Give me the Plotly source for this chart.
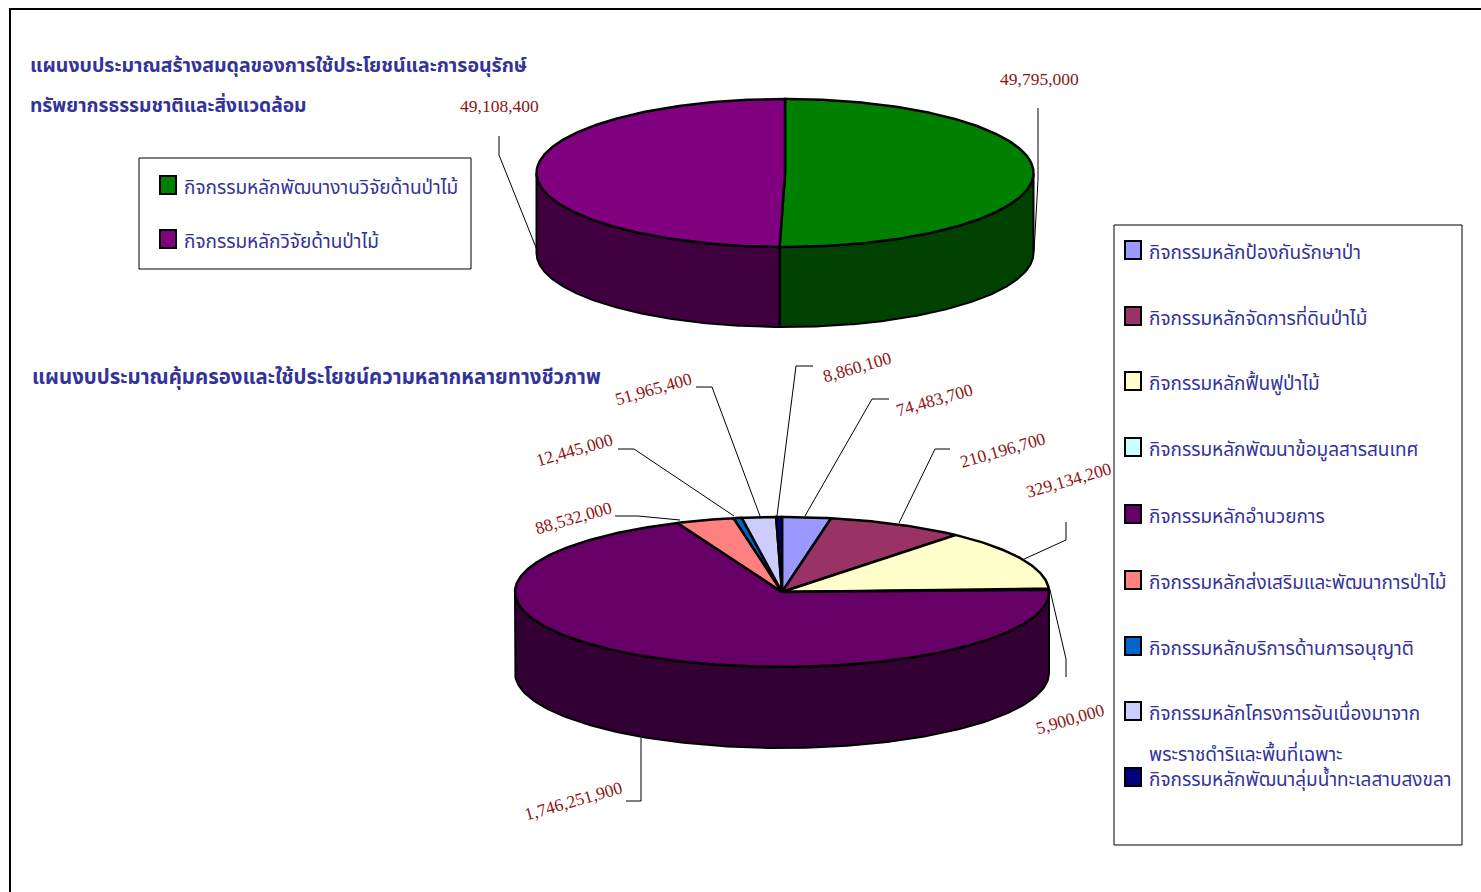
import numpy as np
import plotly.graph_objects as go

# ---------- data ----------
upper_names = ["กิจกรรมหลักพัฒนางานวิจัยด้านป่าไม้", "กิจกรรมหลักวิจัยด้านป่าไม้"]
upper_values = [49795000, 49108400]
upper_colors = ["#008000", "#800080"]

lower_names = [
    "กิจกรรมหลักป้องกันรักษาป่า",
    "กิจกรรมหลักจัดการที่ดินป่าไม้",
    "กิจกรรมหลักฟื้นฟูป่าไม้",
    "กิจกรรมหลักพัฒนาข้อมูลสารสนเทศ",
    "กิจกรรมหลักอำนวยการ",
    "กิจกรรมหลักส่งเสริมและพัฒนาการป่าไม้",
    "กิจกรรมหลักบริการด้านการอนุญาติ",
    "กิจกรรมหลักโครงการอันเนื่องมาจาก<br>พระราชดำริและพื้นที่เฉพาะ",
    "กิจกรรมหลักพัฒนาลุ่มน้ำทะเลสาบสงขลา",
]
lower_values = [74483700, 210196700, 329134200, 5900000, 1746251900,
                88532000, 12445000, 51965400, 8860100]
lower_colors = ["#9999FF", "#993366", "#FFFFCC", "#CCFFFF", "#660066",
                "#FF8080", "#0066CC", "#CCCCFF", "#000080"]

title_upper = ["แผนงบประมาณสร้างสมดุลของการใช้ประโยชน์และการอนุรักษ์",
               "ทรัพยากรธรรมชาติและสิ่งแวดล้อม"]
title_lower = "แผนงบประมาณคุ้มครองและใช้ประโยชน์ความหลากหลายทางชีวภาพ"

# ---------- styles ----------
THAI = "'Noto Sans Thai','Noto Serif Thai','Loma','Garuda','Noto Sans','Liberation Serif',serif"
NUM = "'Liberation Serif',serif"
INK = "#333399"
RED = "#8E1414"


def darken(c):
    return "#%02X%02X%02X" % tuple(int(c[i:i + 2], 16) // 2 for i in (1, 3, 5))


fig = go.Figure()


def add_pie(names, values, colors, cx, cy, rx, ry, depth):
    vals = np.array(values, dtype=float)
    edges = np.concatenate([[0], np.cumsum(vals) / vals.sum()]) * 2 * np.pi
    # walls of the slices that face the viewer, then the top faces
    for name, c, a, b in zip(names, colors, edges[:-1], edges[1:]):
        lo, hi = max(a, np.pi / 2), min(b, 3 * np.pi / 2)
        if hi <= lo:
            continue
        t = np.linspace(lo, hi, 160)
        x = cx + rx * np.sin(t)
        y = cy - ry * np.cos(t)
        fig.add_trace(go.Scatter(
            x=np.r_[x, x[::-1], x[0]], y=np.r_[y, y[::-1] + depth, y[0]],
            mode="lines", fill="toself", fillcolor=darken(c),
            line=dict(color="#000000", width=2), hoverinfo="skip", showlegend=False))
    for name, v, c, a, b in zip(names, values, colors, edges[:-1], edges[1:]):
        t = np.linspace(a, b, max(4, int((b - a) * 80)))
        x = cx + rx * np.sin(t)
        y = cy - ry * np.cos(t)
        fig.add_trace(go.Scatter(
            x=np.r_[cx, x, cx], y=np.r_[cy, y, cy],
            mode="lines", fill="toself", fillcolor=c, name=name.replace("<br>", ""),
            line=dict(color="#000000", width=2.5), text=f"{v:,}", hoverinfo="name+text",
            showlegend=False))


add_pie(upper_names, upper_values, upper_colors, 785, 173, 248.5, 74, 80)
add_pie(lower_names, lower_values, lower_colors, 782, 592, 267, 75, 81)

shapes = []
annotations = []


def poly(points, width=1):
    d = "M " + " L ".join(f"{x},{y}" for x, y in points)
    shapes.append(dict(type="path", path=d, xref="x", yref="y",
                       line=dict(color="#000000", width=width)))


def rect(x0, y0, x1, y1, fill="rgba(0,0,0,0)", width=1):
    shapes.append(dict(type="rect", x0=x0, y0=y0, x1=x1, y1=y1, xref="x", yref="y",
                       fillcolor=fill, line=dict(color="#000000", width=width)))


def text(x, y, s, size, color, family, xanchor="left", angle=0):
    annotations.append(dict(x=x, y=y, xref="x", yref="y", text=s, showarrow=False,
                            xanchor=xanchor, yanchor="middle", textangle=angle,
                            font=dict(size=size, color=color, family=family), align="left"))


# outer frame
poly([(10, 892), (10, 9), (1481, 9)], 2)

# leader lines
for pts in [
    [(1038, 108), (1038, 180), (1034, 252)],
    [(499, 136), (499, 155), (537, 250)],
    [(813, 366), (796, 366), (777, 516)],
    [(889, 399), (872, 399), (805, 516)],
    [(950, 449), (935, 449), (899, 523)],
    [(1066, 522), (1066, 540), (1022, 560)],
    [(1050, 590), (1066, 659), (1066, 677)],
    [(641, 738), (641, 801), (626, 801)],
    [(615, 516), (638, 516), (680, 520)],
    [(618, 449), (634, 449), (734, 516)],
    [(696, 387), (712, 387), (760, 516)],
]:
    poly(pts)

# value labels
for v, x, y, ang in [
    (upper_values[0], 1039, 79, 0),
    (upper_values[1], 499, 106, 0),
    (lower_values[8], 857, 367, -16),
    (lower_values[0], 934, 400, -16),
    (lower_values[1], 1003, 450, -16),
    (lower_values[2], 1069, 480, -16),
    (lower_values[3], 1070, 719, -16),
    (lower_values[4], 573, 801, -16),
    (lower_values[5], 573, 518, -16),
    (lower_values[6], 574, 450, -16),
    (lower_values[7], 653, 389, -16),
]:
    text(x, y, f"{v:,}", 17.5, RED, NUM, "center", ang)

# titles
text(28, 66, f"<b>{title_upper[0]}</b>", 19.5, INK, THAI)
text(28, 106, f"<b>{title_upper[1]}</b>", 19.2, INK, THAI)
text(30, 377, f"<b>{title_lower}</b>", 20.4, INK, THAI)

# upper legend
rect(139, 158, 471, 269)
for name, c, y in zip(upper_names, upper_colors, [185, 239]):
    rect(160, y - 9, 176, y + 9, c, 2)
    text(182, y + 3, name, 19, INK, THAI)

# lower legend
rect(1114, 225, 1462, 845)
rows = [250, 316, 381, 447, 514, 580, 646, 711, 777]
for name, c, y in zip(lower_names, lower_colors, rows):
    rect(1125, y - 9, 1141, y + 9, c, 2)
    parts = name.split("<br>")
    text(1147, y + 3, parts[0], 19, INK, THAI)
    if len(parts) > 1:
        text(1147, y + 44, parts[1], 19, INK, THAI)

fig.update_layout(
    width=1481, height=892, margin=dict(l=0, r=0, t=0, b=0),
    paper_bgcolor="#FFFFFF", plot_bgcolor="#FFFFFF",
    xaxis=dict(range=[0, 1481], visible=False, fixedrange=True),
    yaxis=dict(range=[892, 0], visible=False, fixedrange=True),
    showlegend=False, shapes=shapes, annotations=annotations,
)
fig.write_html("out.html", config={"displayModeBar": False},
               post_script="document.body.style.margin='0';document.body.style.overflow='hidden';")
